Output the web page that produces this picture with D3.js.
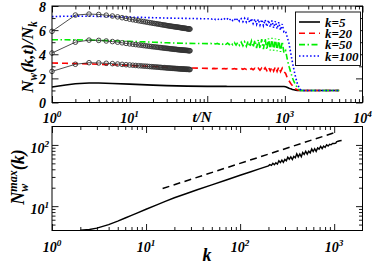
<!DOCTYPE html>
<html><head><meta charset="utf-8">
<script src="https://cdn.jsdelivr.net/npm/d3@7"></script>
<style>
body{margin:0;background:#fff}
svg{display:block}
text{font-family:"Liberation Serif","Times New Roman",serif;font-weight:bold;font-style:italic;fill:#000}
</style>
</head><body>
<svg id="c" width="374" height="264"></svg>
<script>
// ---------- DATA ----------
// top panel: time axis (t/N) for the simulated curves
const tLine = [1,1.5,2,3,4,6,10,20,30,55,100,
  110,116,122,128,135,142,149,157,165,174,183,192,202,213,224,235,247,260,274,288,303,319,335,353,371,390,411,432,455,478,503,529,557,586,616,648,682,717,755,794,835,879,925,973,1023,
  1080,1130,1190,1250,1310,1380,1450,1520,1600,1700,1850,2000,2500,3000,4000,5000];
const wK5 = [1.28,1.45,1.55,1.62,1.62,1.58,1.52,1.44,1.40,1.36,1.34,
  1.34,1.34,1.34,1.34,1.34,1.34,1.34,1.34,1.34,1.34,
  1.33,1.33,1.33,1.33,1.33,1.33,1.33,1.33,1.33,1.33,1.33,1.33,1.33,1.33,1.33,1.33,1.33,1.33,1.33,1.33,
  1.33,1.33,1.33,1.33,1.33,1.33,1.33,1.33,1.33,1.33,1.33,1.33,1.33,1.33,1.31,
  1.25,1.19,1.13,1.08,1.05,1.02,1.00,1.00,1.00,1.00,1.00,1.00,1.00,1.00,1.00,1.00];
const wK20 = [3.27,3.25,3.23,3.20,3.17,3.13,3.07,2.98,2.93,2.87,2.83,
  2.83,2.81,2.83,2.81,2.82,2.80,2.82,2.80,2.82,2.79,2.82,2.79,2.81,2.78,2.81,2.77,2.81,2.76,2.81,2.75,
  2.81,2.74,2.82,2.73,2.82,2.72,2.83,2.70,2.84,2.68,2.86,2.66,2.88,2.64,2.92,2.62,2.95,2.60,2.97,2.58,
  2.95,2.56,2.85,2.55,2.40,
  2.00,1.80,1.58,1.40,1.24,1.12,1.05,1.01,1.00,1.00,1.00,1.00,1.00,1.00,1.00,1.00];
const wK50 = [5.20,5.20,5.19,5.17,5.15,5.12,5.07,5.00,4.95,4.90,4.88,
  4.90,4.86,4.90,4.85,4.90,4.84,4.91,4.83,4.92,4.82,4.93,4.80,4.94,4.79,4.96,4.76,4.98,4.74,5.00,4.70,
  5.03,4.67,5.07,4.63,5.10,4.58,5.15,4.52,5.20,4.47,5.25,4.42,5.30,4.38,5.32,4.33,5.35,4.30,5.30,4.25,
  5.25,4.20,5.05,4.10,4.30,
  3.50,3.00,2.50,2.05,1.72,1.45,1.22,1.08,1.00,1.00,1.00,1.00,1.00,1.00,1.00,1.00];
const wK100 = [7.12,7.15,7.16,7.15,7.14,7.12,7.08,7.03,7.00,6.97,6.94,
  6.95,6.90,6.96,6.88,6.95,6.86,6.94,6.85,6.95,6.83,6.94,6.81,6.96,6.79,6.95,6.77,6.97,6.74,6.95,6.70,
  6.98,6.66,6.95,6.62,6.97,6.55,6.92,6.48,6.90,6.42,6.88,6.38,6.85,6.30,6.82,6.25,6.80,6.18,6.75,6.10,
  6.65,6.00,6.50,5.85,5.90,
  5.35,4.90,4.10,3.35,2.70,2.05,1.55,1.25,1.06,1.00,0.98,1.00,1.00,0.99,1.00,1.00];

// top panel: circle-marked curves (integer t)
const tSim = [1,2,3,4,5,6,7,8,9,10,11,12,13,14,15,16,17,18,19,20,21,22,23,24,25,26,27,28,29,30,
  31,32,33,34,35,36,37,38,39,40,41,42,43,44,45,46,47,48,49,50,51,52,53,54,55,56,57,58,59,60];
const simK20 = [2.58,3.17,3.30,3.28,3.25,3.22,3.19,3.16,3.13,3.11,3.09,3.07,3.05,3.04,3.02,3.01,3.00,2.98,2.97,2.96,
  2.95,2.94,2.93,2.92,2.91,2.90,2.89,2.89,2.88,2.87,2.86,2.86,2.85,2.84,2.84,2.83,2.83,2.82,2.82,2.81,
  2.81,2.80,2.80,2.79,2.79,2.78,2.78,2.78,2.77,2.77,2.76,2.76,2.76,2.75,2.75,2.75,2.74,2.74,2.74,2.73];
const simK50 = [4.10,5.00,5.17,5.15,5.10,5.05,5.00,4.95,4.90,4.86,4.83,4.80,4.77,4.75,4.72,4.70,4.68,4.66,4.64,4.62,
  4.61,4.59,4.58,4.56,4.55,4.54,4.52,4.51,4.50,4.49,4.48,4.47,4.46,4.45,4.44,4.43,4.42,4.41,4.41,4.40,
  4.39,4.38,4.38,4.37,4.36,4.36,4.35,4.35,4.34,4.34,4.33,4.33,4.32,4.32,4.31,4.31,4.30,4.30,4.29,4.29];
const simK100 = [5.90,7.25,7.33,7.30,7.24,7.17,7.10,7.03,6.97,6.91,6.86,6.82,6.78,6.74,6.71,6.68,6.65,6.62,6.60,6.57,
  6.55,6.53,6.51,6.49,6.47,6.45,6.43,6.42,6.40,6.38,6.37,6.35,6.34,6.33,6.31,6.30,6.29,6.28,6.27,6.26,
  6.25,6.24,6.23,6.22,6.21,6.20,6.19,6.18,6.17,6.16,6.15,6.15,6.14,6.13,6.12,6.11,6.11,6.10,6.09,6.09];

const legendLabels = ["k=5","k=20","k=50","k=100"];

// bottom panel
const kVals = [2,2.5,3,4,5,6,7,8,10,13,16,20,27,35,50,70,100,130,160,200,
  207,215,223,231,240,249,258,268,278,288,299,310,321,333,346,359,372,386,400,415,431,447,463,480,498,
  517,536,556,577,598,620,643,667,692,718,745,772,801,831,862,894,927,961,997,
  1040,1060,1100,1150,1200];
const nMax = [4.05,4.16,4.38,5.0,5.7,6.4,7.05,7.7,8.9,10.5,12.0,13.7,16.1,18.5,22.2,26.5,32.0,36.5,40.5,45.5,
  47.7,46.4,50.1,47.6,51.1,48.5,55.2,51.5,56.4,51.9,58.0,55.1,63.2,58.4,63.8,57.7,65.1,61.9,71.6,63.7,71.0,64.1,75.3,70.2,79.0,
  70.8,79.0,74.3,86.2,78.0,87.0,78.6,89.5,85.3,95.0,86.8,95.9,91.1,100.7,95.7,102.6,100.5,105.5,105.5,
  107,112,115,117,118];
const guideK = [15,1000];
const guideN = [19.4,158];

// tick labels
const topXTicks = [1,10,100,1000,10000];
const topXExp = ["0","1","","3","4"];
const topYTicks = [0,2,4,6,8];
const topYLabels = ["0","2","4","6","8"];
const botXTicks = [1,10,100,1000];
const botXExp = ["0","1","2","3"];
const botYTicks = [10,100];
const botYExp = ["1","2"];

// ---------- DRAW ----------
const svg = d3.select("#c");
const L = 52, R = 362.5;
const xT = d3.scaleLog().domain([1,1e4]).range([L,R]);
const yT = d3.scaleLinear().domain([0,8]).range([102.5,6]);
const xB = d3.scaleLog().domain([1,2000]).range([L,R]);
const yB = d3.scaleLog().domain([4,200]).range([230.5,126.5]);

function logMinors(lo, hi){
  const out=[];
  for(let e=Math.floor(Math.log10(lo)); e<=Math.ceil(Math.log10(hi)); e++){
    for(let m=2;m<=9;m++){const v=m*Math.pow(10,e); if(v>lo && v<hi) out.push(v);}
  }
  return out;
}
function drawAxis(g, axisFn, scale, pos, majors, minors){
  g.append("g").attr("transform",pos).call(axisFn(scale).tickValues(majors).tickSize(6.5).tickFormat(""))
    .call(s=>s.select(".domain").remove());
  g.append("g").attr("transform",pos).call(axisFn(scale).tickValues(minors).tickSize(3.5).tickFormat(""))
    .call(s=>s.select(".domain").remove());
}
function styleTicks(){
  svg.selectAll(".tick line").attr("stroke","#000").attr("stroke-width",0.9);
}
function expLabel(x, y, base, exp, anchor, size){
  const t = svg.append("text").attr("x",x).attr("y",y).attr("text-anchor",anchor).style("font-size",size+"px");
  t.append("tspan").text(base);
  if(exp!==null) t.append("tspan").attr("dy",-size*0.42).style("font-size",(size*0.66)+"px").text(exp);
  return t;
}

// ---- Top panel ----
const gT = svg.append("g");
drawAxis(gT, d3.axisTop, xT, `translate(0,${yT(0)})`, topXTicks, logMinors(1,1e4));
drawAxis(gT, d3.axisBottom, xT, `translate(0,${yT(8)})`, topXTicks, logMinors(1,1e4));
drawAxis(gT, d3.axisRight, yT, `translate(${L},0)`, topYTicks, [1,3,5,7]);
drawAxis(gT, d3.axisLeft, yT, `translate(${R},0)`, topYTicks, [1,3,5,7]);

const lineT = d3.line().x(d=>xT(d[0])).y(d=>yT(d[1]));
const series = [
  {v:wK5, color:"#000", dash:null, w:1.6},
  {v:wK20, color:"#ff0000", dash:"6,4", w:1.6},
  {v:wK50, color:"#00ee00", dash:"6,2.5,1.5,2.5", w:1.6},
  {v:wK100, color:"#0000ff", dash:"1.5,2.2", w:1.6}
];
series.forEach(s=>{
  gT.append("path").datum(tLine.map((t,i)=>[t,s.v[i]]))
    .attr("d",lineT).attr("fill","none").attr("stroke",s.color).attr("stroke-width",s.w)
    .attr("stroke-dasharray",s.dash);
});
[simK20, simK50, simK100].forEach(arr=>{
  const pts = tSim.map((t,i)=>[t,arr[i]]);
  gT.append("path").datum(pts).attr("d",lineT).attr("fill","none").attr("stroke","#222").attr("stroke-width",0.8);
  gT.selectAll(null).data(pts).enter().append("circle")
    .attr("cx",d=>xT(d[0])).attr("cy",d=>yT(d[1])).attr("r",2.3)
    .attr("fill","none").attr("stroke","#333").attr("stroke-width",0.9);
});
gT.append("rect").attr("x",L).attr("y",yT(8)).attr("width",R-L).attr("height",yT(0)-yT(8))
  .attr("fill","none").attr("stroke","#000").attr("stroke-width",1);

// legend
const lg = gT.append("g");
lg.append("rect").attr("x",295.5).attr("y",12).attr("width",65).attr("height",53.5)
  .attr("fill","#fff").attr("stroke","#000").attr("stroke-width",0.9);
const legY = [22,33.3,44.6,56];
legendLabels.forEach((lab,i)=>{
  lg.append("line").attr("x1",299).attr("x2",320).attr("y1",legY[i]).attr("y2",legY[i])
    .attr("stroke",series[i].color).attr("stroke-width",1.6).attr("stroke-dasharray",series[i].dash);
  lg.append("text").attr("x",325).attr("y",legY[i]+4.5).style("font-size","13px").text(lab);
});

// top labels
topXTicks.forEach((v,i)=>{ if(topXExp[i]!=="") expLabel(xT(v), 123, "10", topXExp[i], "middle", 14); });
topYTicks.forEach((v,i)=>{ svg.append("text").attr("x",46).attr("y",yT(v)+5.5).attr("text-anchor","end").style("font-size","14px").text(topYLabels[i]); });
svg.append("text").attr("x",202).attr("y",122).attr("text-anchor","middle").style("font-size","15px").text("t/N");
// y title top
const yt = svg.append("text").attr("transform","translate(33,57) rotate(-90)").attr("text-anchor","middle").style("font-size","17px");
yt.append("tspan").text("N");
yt.append("tspan").attr("dy",3.5).style("font-size","11.5px").text("w");
yt.append("tspan").attr("dy",-3.5).text("(k,t)/N");
yt.append("tspan").attr("dy",3.5).style("font-size","11.5px").text("k");

// ---- Bottom panel ----
const gB = svg.append("g");
drawAxis(gB, d3.axisTop, xB, `translate(0,${yB(4)})`, botXTicks, logMinors(1,2000));
drawAxis(gB, d3.axisBottom, xB, `translate(0,${yB(200)})`, botXTicks, logMinors(1,2000));
drawAxis(gB, d3.axisRight, yB, `translate(${L},0)`, botYTicks, logMinors(4,200));
drawAxis(gB, d3.axisLeft, yB, `translate(${R},0)`, botYTicks, logMinors(4,200));

const lineB = d3.line().x(d=>xB(d[0])).y(d=>yB(d[1]));
gB.append("path").datum(kVals.map((k,i)=>[k,nMax[i]])).attr("d",lineB)
  .attr("fill","none").attr("stroke","#000").attr("stroke-width",1.4);
gB.append("path").datum(guideK.map((k,i)=>[k,guideN[i]])).attr("d",lineB)
  .attr("fill","none").attr("stroke","#000").attr("stroke-width",1.5).attr("stroke-dasharray","7,4.5");
gB.append("rect").attr("x",L).attr("y",yB(200)).attr("width",R-L).attr("height",yB(4)-yB(200))
  .attr("fill","none").attr("stroke","#000").attr("stroke-width",1);

botXTicks.forEach((v,i)=>expLabel(xB(v), 252, "10", botXExp[i], "middle", 14));
botYTicks.forEach((v,i)=>expLabel(49, yB(v)+8, "10", botYExp[i], "end", 14));
svg.append("text").attr("x",207).attr("y",261).attr("text-anchor","middle").style("font-size","18px").text("k");
const yb = svg.append("text").attr("transform","translate(24,177) rotate(-90)").attr("text-anchor","middle").style("font-size","18px");
yb.append("tspan").text("N");
yb.append("tspan").attr("dy",4).style("font-size","12px").text("w");
yb.append("tspan").attr("dx",-8).attr("dy",-11).style("font-size","12px").text("max");
yb.append("tspan").attr("dy",7).text("(k)");

styleTicks();
</script>
</body></html>
